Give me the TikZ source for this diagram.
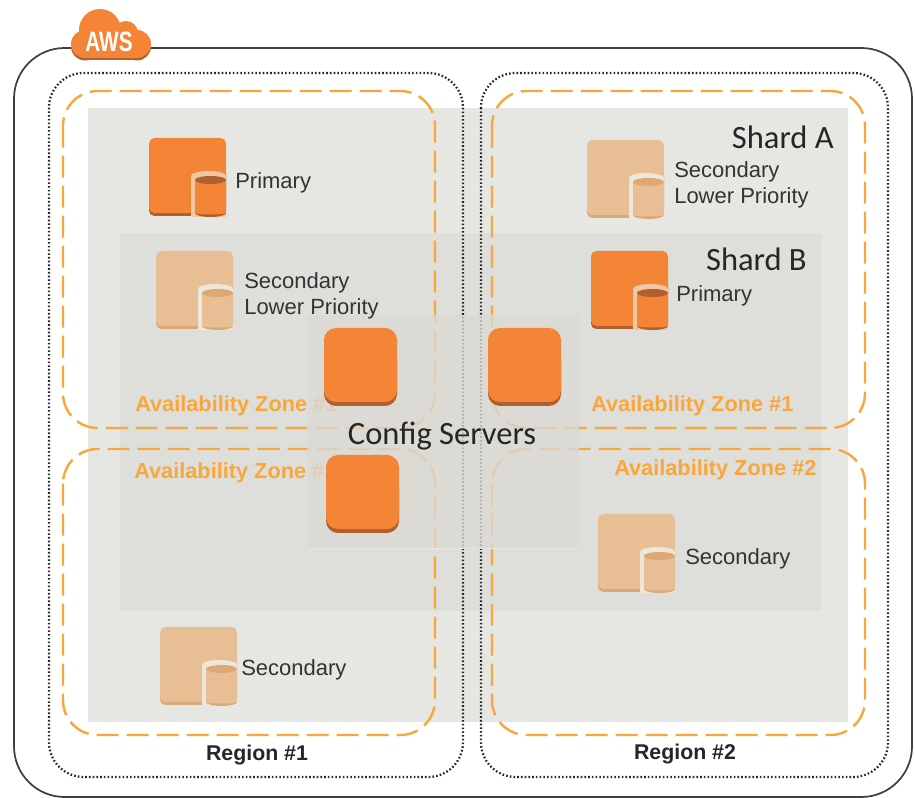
\documentclass[tikz,border=0pt]{standalone}
\usepackage{fontspec}
\setmainfont{Liberation Sans}
\newfontfamily\calfont{Carlito}
\definecolor{awsorange}{HTML}{F58536}
\definecolor{awsdark}{HTML}{B0602C}
\definecolor{awshalo}{HTML}{EFC7A2}
\definecolor{palemain}{HTML}{E8BE95}
\definecolor{paledark}{HTML}{DDA874}
\definecolor{palehalo}{HTML}{EFE6DA}
\definecolor{zoneorange}{HTML}{F9A63A}
\definecolor{panela}{HTML}{E6E7E3}
\definecolor{panelb}{HTML}{DEDFDA}
\definecolor{panelc}{HTML}{DBD9D4}
\definecolor{labelgrey}{HTML}{333333}
\tikzset{
  outerbox/.style={draw=black!75,line width=1.3pt,rounded corners=38pt},
  regionbox/.style={draw=black!85,line width=1.7pt,dash pattern=on 1.2pt off 1.6pt,rounded corners=26pt},
  zonebox/.style={draw=zoneorange,line width=1.8pt,dash pattern=on 16.5pt off 6pt,rounded corners=26pt},
  lbl/.style={anchor=west,inner sep=0pt,font=\fontsize{16.5}{19.5}\selectfont,text=labelgrey,align=left},
  zonelbl/.style={anchor=west,inner sep=0pt,font=\fontsize{16.3}{19}\selectfont\bfseries,text=zoneorange},
  regionlbl/.style={inner sep=0pt,font=\fontsize{16}{19}\selectfont\bfseries,text=black!85},
  shardlbl/.style={anchor=east,inner sep=0pt,font=\calfont\fontsize{24.4}{28}\selectfont,text=black!85}
}
\newcommand{\dbicon}[5]{%
  \begin{scope}[shift={(#1,#2)}]
    \fill[#4,rounded corners=4pt] (0,30) rectangle (77,78);
    \fill[#3,rounded corners=4pt] (0,0) rectangle (77,75);
    \fill[#5] (42,79) -- (42,38) arc[start angle=180,end angle=0,x radius=17.5,y radius=-5] -- (77,79) -- cycle;
    \fill[#4] (61.5,75) ellipse[x radius=15.5,y radius=4];
    \fill[#3] (46,42) rectangle (77,75);
    \fill[#3] (61.5,75) ellipse[x radius=15.5,y radius=1.5];
    \fill[#4] (61.5,42) ellipse[x radius=15.5,y radius=4];
  \end{scope}}
\newcommand{\cfgicon}[2]{%
  \fill[awsdark,rounded corners=9pt] (#1,#2+20) rectangle (#1+73,#2+78);
  \fill[awsorange,rounded corners=9pt] (#1,#2) rectangle (#1+73,#2+74);}
\begin{document}
\begin{tikzpicture}[x=0.75pt,y=-0.75pt]
\useasboundingbox (0,0) rectangle (915,798);
\fill[white] (0,0) rectangle (915,798);
% boxes
\draw[outerbox] (14,48) rectangle (912,797);
\draw[regionbox] (49,73) rectangle (463,777);
\draw[regionbox] (481,73) rectangle (888,777);
% shard panels
\fill[panela] (88,108) rectangle (848,722);
\fill[panelb] (120,233) rectangle (822,610);
\draw[black!12,line width=1.2pt] (120,610.5) -- (822,610.5);
% redraw dotted over panels
\begin{scope}
  \clip (88,108) rectangle (848,722);
  \draw[regionbox] (49,73) rectangle (463,777);
  \draw[regionbox] (481,73) rectangle (888,777);
\end{scope}
% zones
\draw[zonebox] (63,91) rectangle (435,428);
\draw[zonebox] (63,449) rectangle (435,735);
\draw[zonebox] (492,91) rectangle (865,428);
\draw[zonebox] (492,449) rectangle (865,735);
\node[zonelbl] (az1) at (135,406) {Availability Zone \#1};
\node[zonelbl] (az2) at (134,473) {Availability Zone \#2};
\node[zonelbl] (az3) at (591,406) {Availability Zone \#1};
\node[zonelbl] (az4) at (614,470) {Availability Zone \#2};
% config panel
\fill[panelc,opacity=0.78] (307,315) rectangle (579,548);
\draw[black!10,line width=1pt] (307,548.5) -- (579,548.5);
\cfgicon{324}{328}
\cfgicon{488}{328}
\cfgicon{326}{455}
% database icons
\dbicon{149}{138}{awsorange}{awsdark}{awshalo}
\dbicon{156}{251}{palemain}{paledark}{palehalo}
\dbicon{587}{140}{palemain}{paledark}{palehalo}
\dbicon{591}{251}{awsorange}{awsdark}{awshalo}
\dbicon{598}{514}{palemain}{paledark}{palehalo}
\dbicon{160}{627}{palemain}{paledark}{palehalo}
% labels
\node[lbl] (p1) at (235,183) {Primary};
\node[lbl] (s1) at (244,296) {Secondary\\Lower Priority};
\node[lbl] (s2) at (674,185) {Secondary\\Lower Priority};
\node[lbl] (p2) at (676,296) {Primary};
\node[lbl] (s3) at (685,559) {Secondary};
\node[lbl] (s4) at (241,670) {Secondary};
\node[shardlbl] (sa) at (834,137) {Shard A};
\node[shardlbl] (sb) at (807,259) {Shard B};
\node[inner sep=0pt,font=\calfont\fontsize{24.4}{28}\selectfont,text=black!85] (cfg) at (442,436) {Config Servers};
\node[regionlbl] (r1) at (257,755) {Region \#1};
\node[regionlbl] (r2) at (685,754) {Region \#2};
% AWS cloud
\foreach \yo/\col in {2.5/awsdark,0/awsorange}{
  \fill[\col] (100,30+\yo) circle[radius=21];
  \fill[\col] (126,33+\yo) circle[radius=12];
  \fill[\col] (85,44+\yo) circle[radius=14];
  \fill[\col] (137,44+\yo) circle[radius=14];
  \fill[\col] (85,35+\yo) rectangle (137,58+\yo);
}
\node[inner sep=0pt,text=white,font=\fontsize{21}{23}\selectfont\bfseries] (aws) at (109,42) {\scalebox{0.74}[1]{AWS}};
\end{tikzpicture}
\end{document}
